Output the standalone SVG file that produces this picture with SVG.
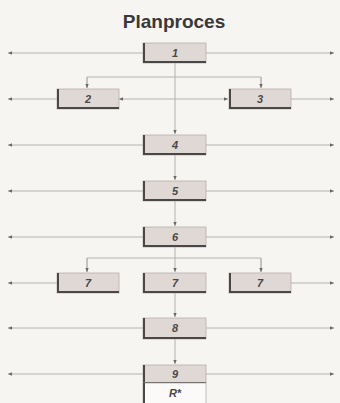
<svg xmlns="http://www.w3.org/2000/svg" width="340" height="403" viewBox="0 0 340 403">
<style>
.ln{stroke:#b4b2af;stroke-width:1;fill:none}
.bx{fill:#e0d8d5;stroke:#b5b0ad;stroke-width:0.8}
.ed{fill:none;stroke:#4a4746;stroke-width:2}
.lb{font-family:"Liberation Sans",Arial,sans-serif;font-size:11px;font-weight:bold;font-style:italic;fill:#4a4847;text-anchor:middle}
.tt{font-family:"Liberation Sans",Arial,sans-serif;font-size:19px;font-weight:bold;fill:#3a3838;text-anchor:middle}
</style>
<defs>
<marker id="ah" viewBox="0 0 6 6" refX="6" refY="3" markerWidth="4" markerHeight="4" orient="auto" markerUnits="userSpaceOnUse">
<path d="M0,0.5 L6,3 L0,5.5 Z" fill="#6a6866"/>
</marker>
</defs>
<rect width="340" height="403" fill="#f6f5f2"/>
<text class="tt" x="174" y="28">Planproces</text>
<g id="connectors">
<line class="ln" x1="143" y1="53" x2="8" y2="53" marker-end="url(#ah)"/>
<line class="ln" x1="206" y1="53" x2="334" y2="53" marker-end="url(#ah)"/>
<line class="ln" x1="175" y1="63" x2="175" y2="134" marker-end="url(#ah)"/>
<polyline class="ln" points="87,88 87,77 261,77 261,88"/>
<line class="ln" x1="87" y1="77" x2="87" y2="88" marker-end="url(#ah)"/>
<line class="ln" x1="261" y1="77" x2="261" y2="88" marker-end="url(#ah)"/>
<line class="ln" x1="57" y1="99" x2="8" y2="99" marker-end="url(#ah)"/>
<line class="ln" x1="291" y1="99" x2="334" y2="99" marker-end="url(#ah)"/>
<line class="ln" x1="175" y1="99" x2="119" y2="99" marker-end="url(#ah)"/>
<line class="ln" x1="175" y1="99" x2="228" y2="99" marker-end="url(#ah)"/>
<line class="ln" x1="143" y1="145" x2="8" y2="145" marker-end="url(#ah)"/>
<line class="ln" x1="206" y1="145" x2="334" y2="145" marker-end="url(#ah)"/>
<line class="ln" x1="175" y1="155" x2="175" y2="180" marker-end="url(#ah)"/>
<line class="ln" x1="143" y1="191" x2="8" y2="191" marker-end="url(#ah)"/>
<line class="ln" x1="206" y1="191" x2="334" y2="191" marker-end="url(#ah)"/>
<line class="ln" x1="175" y1="201" x2="175" y2="226" marker-end="url(#ah)"/>
<line class="ln" x1="143" y1="237" x2="8" y2="237" marker-end="url(#ah)"/>
<line class="ln" x1="206" y1="237" x2="334" y2="237" marker-end="url(#ah)"/>
<line class="ln" x1="175" y1="247" x2="175" y2="272" marker-end="url(#ah)"/>
<polyline class="ln" points="87,272 87,258 261,258 261,272"/>
<line class="ln" x1="87" y1="258" x2="87" y2="272" marker-end="url(#ah)"/>
<line class="ln" x1="261" y1="258" x2="261" y2="272" marker-end="url(#ah)"/>
<line class="ln" x1="57" y1="283" x2="8" y2="283" marker-end="url(#ah)"/>
<line class="ln" x1="291" y1="283" x2="334" y2="283" marker-end="url(#ah)"/>
<line class="ln" x1="175" y1="293" x2="175" y2="317" marker-end="url(#ah)"/>
<line class="ln" x1="143" y1="328" x2="8" y2="328" marker-end="url(#ah)"/>
<line class="ln" x1="206" y1="328" x2="334" y2="328" marker-end="url(#ah)"/>
<line class="ln" x1="175" y1="339" x2="175" y2="364" marker-end="url(#ah)"/>
<line class="ln" x1="143" y1="374" x2="8" y2="374" marker-end="url(#ah)"/>
<line class="ln" x1="206" y1="374" x2="334" y2="374" marker-end="url(#ah)"/>
</g>
<g id="n1"><rect class="bx" x="143" y="43" width="63" height="20"/><polyline class="ed" points="144,43 144,62 206,62"/><text class="lb" x="175" y="57">1</text></g>
<g id="n2"><rect class="bx" x="57" y="89" width="62" height="20"/><polyline class="ed" points="58,89 58,108 119,108"/><text class="lb" x="88" y="103">2</text></g>
<g id="n3"><rect class="bx" x="229" y="89" width="62" height="20"/><polyline class="ed" points="230,89 230,108 291,108"/><text class="lb" x="260" y="103">3</text></g>
<g id="n4"><rect class="bx" x="143" y="135" width="63" height="20"/><polyline class="ed" points="144,135 144,154 206,154"/><text class="lb" x="175" y="149">4</text></g>
<g id="n5"><rect class="bx" x="143" y="181" width="63" height="20"/><polyline class="ed" points="144,181 144,200 206,200"/><text class="lb" x="175" y="195">5</text></g>
<g id="n6"><rect class="bx" x="143" y="227" width="63" height="20"/><polyline class="ed" points="144,227 144,246 206,246"/><text class="lb" x="175" y="241">6</text></g>
<g id="n7a"><rect class="bx" x="57" y="273" width="62" height="20"/><polyline class="ed" points="58,273 58,292 119,292"/><text class="lb" x="88" y="287">7</text></g>
<g id="n7b"><rect class="bx" x="143" y="273" width="63" height="20"/><polyline class="ed" points="144,273 144,292 206,292"/><text class="lb" x="175" y="287">7</text></g>
<g id="n7c"><rect class="bx" x="229" y="273" width="62" height="20"/><polyline class="ed" points="230,273 230,292 291,292"/><text class="lb" x="260" y="287">7</text></g>
<g id="n8"><rect class="bx" x="143" y="318" width="63" height="21"/><polyline class="ed" points="144,318 144,338 206,338"/><text class="lb" x="175" y="332">8</text></g>
<g id="n9"><rect class="bx" x="143" y="365" width="63" height="18"/><polyline class="ed" points="144,365 144,383 206,383"/><text class="lb" x="175" y="378">9</text></g>
<g id="nR"><rect x="143" y="383" width="63" height="22" fill="#fbfaf8" stroke="#b5b0ad" stroke-width="0.8"/><line class="ed" x1="144" y1="383" x2="144" y2="403"/><text class="lb" x="175" y="397">R*</text></g>
</svg>
